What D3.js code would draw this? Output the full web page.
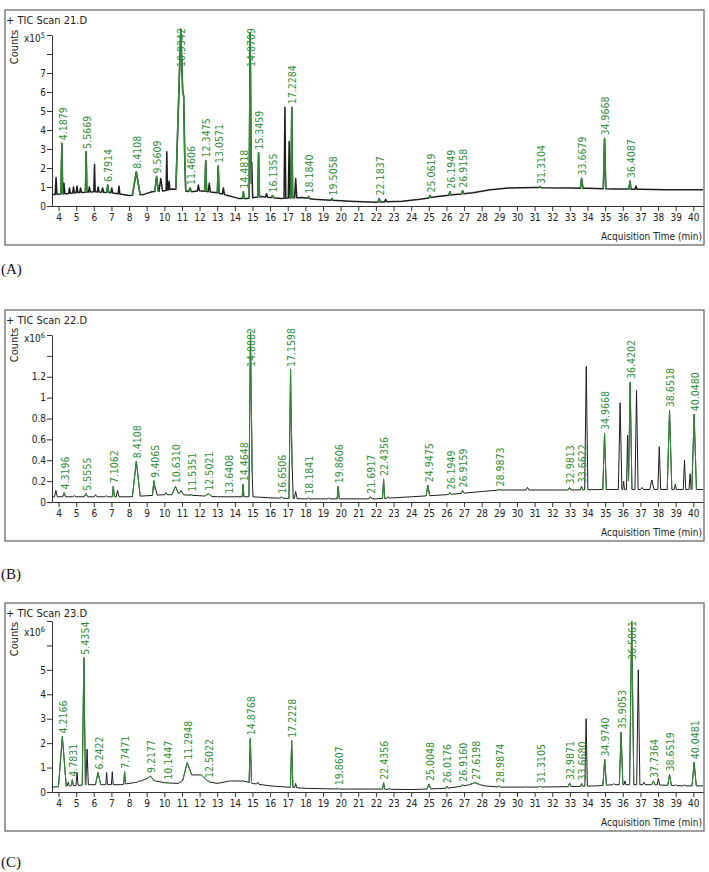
<!DOCTYPE html>
<html>
<head>
<meta charset="utf-8">
<script src="https://cdnjs.cloudflare.com/ajax/libs/d3/7.8.5/d3.min.js"></script>
<style>
  body { margin: 0; background: #fff; }
  svg text { font-family: "DejaVu Sans Condensed", "DejaVu Sans", sans-serif; }
</style>
</head>
<body>
<div id="chart"></div>
<script>
// GC-MS total ion chromatograms, three scans (A, B, C)
// peaks: retention time (min), apex height, half width at base (min), label

const xTicks = [4,5,6,7,8,9,10,11,12,13,14,15,16,17,18,19,20,21,22,23,24,25,26,27,28,29,30,31,32,33,34,35,36,37,38,39,40];

// ---- panel A (x10^5 counts) ----
const yTicksA = [0,1,2,3,4,5,6,7,8,9];
const yLabelsA = ["0","1","2","3","4","5","6","7","",""];
const baseTimeA  = [3.63,4.5,5.0,6.0,7.0,8.0,8.8,9.3,10.0,10.5,11.5,12.0,13.0,13.6,14.2,14.7,15.5,16.0,16.6,17.8,18.5,19.5,20.5,22.0,23.5,24.5,25.5,26.5,27.5,28.5,29.5,31.0,33.0,34.0,35.5,37.0,38.5,40.55];
const baseLevelA = [0.6,0.65,0.7,0.75,0.7,0.55,0.6,0.75,0.8,0.9,0.75,0.8,0.7,0.55,0.4,0.4,0.5,0.45,0.4,0.45,0.35,0.3,0.25,0.2,0.25,0.35,0.5,0.6,0.7,0.85,0.95,0.97,0.95,0.93,0.9,0.88,0.86,0.85];
const peakTimeA   = [3.86,4.1879,4.31,4.62,4.85,5.05,5.25,5.5669,5.75,6.04,6.25,6.5,6.7914,7.02,7.43,8.4108,9.5609,9.8,10.14,10.27,10.9342,11.1,11.4606,11.93,12.3475,12.55,13.0571,13.35,14.4818,14.8709,14.96,15.3459,15.8,16.1355,16.84,17.08,17.2284,17.45,18.184,19.5058,22.1837,22.55,25.0619,26.1949,26.9158,31.3104,33.6679,34.9668,36.4087,36.75];
const peakHeightA = [1.5,3.3,1.2,0.95,1.0,1.05,0.95,2.85,1.0,2.2,1.0,0.95,1.1,0.95,1.05,1.8,1.55,1.45,2.85,1.3,9.3,2.3,0.95,1.1,2.4,1.2,2.1,0.95,0.75,9.1,2.3,2.8,0.65,0.55,5.2,3.4,5.2,1.45,0.5,0.4,0.4,0.35,0.55,0.75,0.8,1.0,1.45,3.55,1.3,1.05];
const peakWidthA  = [0.05,0.05,0.05,0.05,0.05,0.05,0.05,0.04,0.05,0.04,0.05,0.06,0.06,0.05,0.05,0.22,0.1,0.1,0.04,0.05,0.28,0.06,0.08,0.06,0.05,0.06,0.05,0.06,0.05,0.06,0.05,0.05,0.06,0.06,0.05,0.05,0.05,0.06,0.06,0.06,0.06,0.06,0.06,0.06,0.06,0.06,0.07,0.07,0.06,0.06];
const peakLabelA  = ["","4.1879","","","","","","5.5669","","","","","6.7914","","","8.4108","9.5609","","","","10.9342","","11.4606","","12.3475","","13.0571","","14.4818","14.8709","","15.3459","","16.1355","","","17.2284","","18.1840","19.5058","22.1837","","25.0619","26.1949","26.9158","31.3104","33.6679","34.9668","36.4087",""];

// ---- panel B (x10^6 counts) ----
const yTicksB = [0,0.2,0.4,0.6,0.8,1.0,1.2,1.4,1.6];
const yLabelsB = ["0","0.2","0.4","0.6","0.8","1","1.2","",""];
const baseTimeB  = [3.63,5,7,8,9,10,11,12,13,14,15,16,18,20,22,24,26,28,29,33,35,40.55];
const baseLevelB = [0.05,0.05,0.05,0.05,0.06,0.07,0.07,0.06,0.05,0.05,0.05,0.04,0.03,0.03,0.03,0.05,0.07,0.1,0.115,0.115,0.12,0.12];
const peakTimeB   = [3.85,4.3196,4.9,5.5555,6.1,6.7,7.1062,7.35,8.4108,9.4065,9.5,10.1,10.631,10.95,11.5351,12.5021,13.6408,14.4648,14.8882,14.97,16.6506,17.1598,17.25,17.45,18.1841,19.3,19.8606,21.6917,22.4356,22.7,24.9475,26.1949,26.9159,28.9873,30.6,32.9813,33.6622,33.93,34.9668,35.85,36.05,36.27,36.4202,36.78,37.1,37.65,38.07,38.6518,38.98,39.5,39.82,40.048];
const peakHeightB = [0.11,0.09,0.06,0.08,0.07,0.06,0.15,0.11,0.39,0.2,0.13,0.09,0.15,0.11,0.07,0.08,0.05,0.17,1.63,0.33,0.05,1.27,0.35,0.1,0.04,0.04,0.15,0.05,0.22,0.05,0.16,0.09,0.11,0.12,0.14,0.14,0.15,1.3,0.66,0.95,0.2,0.64,1.15,1.07,0.14,0.21,0.53,0.88,0.17,0.4,0.27,0.84];
const peakWidthB  = [0.08,0.08,0.1,0.1,0.08,0.08,0.06,0.08,0.22,0.08,0.1,0.06,0.2,0.15,0.08,0.2,0.08,0.05,0.09,0.06,0.08,0.09,0.06,0.08,0.06,0.06,0.06,0.08,0.06,0.06,0.1,0.06,0.07,0.08,0.08,0.08,0.07,0.09,0.1,0.1,0.05,0.06,0.1,0.09,0.08,0.12,0.08,0.13,0.06,0.07,0.06,0.13];
const peakLabelB  = ["","4.3196","","5.5555","","","7.1062","","8.4108","9.4065","","","10.6310","","11.5351","12.5021","13.6408","14.4648","14.8882","","16.6506","17.1598","","","18.1841","","19.8606","21.6917","22.4356","","24.9475","26.1949","26.9159","28.9873","","32.9813","33.6622","","34.9668","","","","36.4202","","","","","38.6518","","","","40.0480"];

// ---- panel C (x10^6 counts) ----
const yTicksC = [0,1,2,3,4,5,6,7];
const yLabelsC = ["0","1","2","3","4","5","",""];
const baseTimeC  = [3.63,4.6,5.8,6.5,7.5,8.5,9.0,9.5,10.0,10.8,11.5,12.1,12.5,13.0,13.7,14.5,15.0,16.0,17.0,18.0,20.0,22.0,24.0,26.0,27.0,27.6,28.2,29.0,31.0,33.0,34.5,35.5,37.5,39.5,40.55];
const baseLevelC = [0.2,0.25,0.3,0.3,0.3,0.4,0.55,0.45,0.38,0.35,0.7,0.7,0.42,0.35,0.45,0.45,0.35,0.25,0.2,0.15,0.12,0.12,0.1,0.15,0.25,0.35,0.25,0.2,0.2,0.22,0.25,0.3,0.3,0.25,0.25];
const peakTimeC   = [4.2166,4.55,4.7831,5.05,5.4354,5.62,6.2422,6.73,7.05,7.7471,8.3,8.55,9.2177,10.1447,11.2948,12.5022,14.8768,15.3,17.2228,17.45,19.8607,22.4356,22.8,25.0048,26.0176,26.916,27.6198,28.9874,30.5,31.3105,32.9871,33.668,33.92,34.974,35.5,35.9053,36.12,36.5061,36.88,37.2,37.7364,38.02,38.6519,39.0,39.5,40.0481];
const peakHeightC = [2.27,0.4,0.5,0.8,5.5,1.75,0.8,0.8,0.83,0.83,0.4,0.45,0.65,0.38,1.2,0.45,2.2,0.4,2.1,0.35,0.15,0.38,0.15,0.33,0.24,0.3,0.38,0.25,0.22,0.24,0.37,0.35,3.0,1.33,0.35,2.45,0.45,7.0,5.0,0.4,0.45,0.55,0.72,0.3,0.3,1.22];
const peakWidthC  = [0.22,0.06,0.06,0.06,0.09,0.07,0.15,0.05,0.05,0.05,0.08,0.1,0.2,0.1,0.25,0.06,0.07,0.07,0.07,0.06,0.07,0.06,0.06,0.1,0.07,0.08,0.3,0.08,0.06,0.08,0.08,0.06,0.07,0.1,0.06,0.1,0.05,0.12,0.09,0.07,0.1,0.07,0.1,0.06,0.06,0.12];
const peakLabelC  = ["4.2166","","4.7831","","5.4354","","6.2422","","","7.7471","","","9.2177","10.1447","11.2948","12.5022","14.8768","","17.2228","","19.8607","22.4356","","25.0048","26.0176","26.9160","27.6198","28.9874","","31.3105","32.9871","33.6680","","34.9740","","35.9053","","36.5061","","","37.7364","","38.6519","","","40.0481"];

const panels = [
  { name: "+ TIC Scan 21.D", exp: "5", letter: "(A)", top: 10, bottom: 245, y0: 206, yMax: 9, yTop: 35, lw: 1.5,
    countsY: 47, unitY: 42,
    yTicks: yTicksA, yLabels: yLabelsA, bt: baseTimeA, bv: baseLevelA, pt: peakTimeA, ph: peakHeightA, pw: peakWidthA, pl: peakLabelA, letterY: 274 },
  { name: "+ TIC Scan 22.D", exp: "6", letter: "(B)", top: 310, bottom: 541, y0: 502, yMax: 1.6, yTop: 335, lw: 1,
    countsY: 345, unitY: 342,
    yTicks: yTicksB, yLabels: yLabelsB, bt: baseTimeB, bv: baseLevelB, pt: peakTimeB, ph: peakHeightB, pw: peakWidthB, pl: peakLabelB, letterY: 579 },
  { name: "+ TIC Scan 23.D", exp: "6", letter: "(C)", top: 603, bottom: 831, y0: 792, yMax: 7, yTop: 621, lw: 1,
    countsY: 639, unitY: 636,
    yTicks: yTicksC, yLabels: yLabelsC, bt: baseTimeC, bv: baseLevelC, pt: peakTimeC, ph: peakHeightC, pw: peakWidthC, pl: peakLabelC, letterY: 867 }
];

const W = 709, H = 872;
const green = "#2f8c35", dark = "#1e1e1e", axisCol = "#333";

const svg = d3.select("#chart").append("svg").attr("width", W).attr("height", H);

const x = d3.scaleLinear().domain([3.63, 40.55]).range([52, 703]);

// builds the trace vertices: baseline plus triangular peaks
function buildTrace(p) {
  const base = d3.scaleLinear().domain(p.bt).range(p.bv).clamp(true);
  let ts = p.bt.slice();
  p.pt.forEach((t, i) => ts.push(t - p.pw[i], t, t + p.pw[i]));
  ts = Array.from(new Set(ts)).filter(t => t >= p.bt[0] && t <= p.bt[p.bt.length - 1]).sort((a, b) => a - b);
  return ts.map(t => {
    let v = base(t);
    p.pt.forEach((c, i) => {
      const d = Math.abs(t - c);
      if (d < p.pw[i]) v += (p.ph[i] - base(c)) * (1 - d / p.pw[i]);
    });
    return [t, v];
  });
}

panels.forEach(p => {
  const g = svg.append("g");
  const y = d3.scaleLinear().domain([0, p.yMax]).range([p.y0, p.yTop]);

  // frame
  g.append("rect")
    .attr("x", 5).attr("y", p.top)
    .attr("width", 699).attr("height", p.bottom - p.top)
    .attr("fill", "none").attr("stroke", "#6a6a6a").attr("stroke-width", 1.3);

  g.append("text").attr("x", 6).attr("y", p.top + 14)
    .attr("font-size", 11).attr("fill", "#222").text(p.name);

  // axes
  const yAxis = d3.axisLeft(y).tickValues(p.yTicks)
    .tickFormat((d, i) => p.yLabels[i]).tickSize(5).tickSizeOuter(0);
  const yg = g.append("g").attr("transform", "translate(52,0)").call(yAxis);

  const xAxis = d3.axisBottom(x).tickValues(xTicks).tickFormat(d3.format("d")).tickSize(5).tickSizeOuter(0);
  const xg = g.append("g").attr("transform", "translate(0," + p.y0 + ")").call(xAxis);

  [yg, xg].forEach(a => {
    a.selectAll("path,line").attr("stroke", axisCol);
    a.selectAll("text").attr("font-size", 10).attr("fill", "#222")
      .style("font-family", '"DejaVu Sans Condensed", sans-serif');
  });
  yg.selectAll("text").attr("x", -6);
  xg.selectAll("text").attr("y", 8);

  g.append("text").attr("transform", "translate(18," + p.countsY + ")rotate(-90)")
    .attr("text-anchor", "middle").attr("font-size", 11).attr("fill", "#222").text("Counts");

  const xl = g.append("text").attr("x", 24).attr("y", p.unitY).attr("font-size", 10).attr("fill", "#222");
  xl.append("tspan").text("x10");
  xl.append("tspan").attr("dy", -4).attr("font-size", 7.5).text(p.exp);

  g.append("text").attr("x", 702).attr("y", p.y0 + 34).attr("text-anchor", "end")
    .attr("font-size", 10).attr("fill", "#222").text("Acquisition Time (min)");

  // trace
  const trace = buildTrace(p);
  const line = d3.line().x(d => x(d[0])).y(d => y(d[1]));
  g.append("path").attr("d", line(trace)).attr("fill", "none")
    .attr("stroke", dark).attr("stroke-width", p.lw).attr("stroke-linejoin", "round");

  // integrated (labelled) peaks in green
  const labelled = p.pt.map((t, i) => ({ t, h: p.ph[i], w: p.pw[i], label: p.pl[i] })).filter(d => d.label !== "");
  labelled.forEach(d => {
    const seg = trace.filter(v => v[0] >= d.t - d.w - 1e-9 && v[0] <= d.t + d.w + 1e-9);
    g.append("path").attr("d", line(seg)).attr("fill", "none")
      .attr("stroke", green).attr("stroke-width", p.lw).attr("stroke-linejoin", "round");
  });

  // peak labels
  const labels = g.selectAll("text.peak").data(labelled).join("text")
    .attr("class", "peak")
    .attr("font-size", 10.5).attr("fill", green)
    .attr("dy", "0.35em")
    .text(d => d.label);
  labels.attr("transform", function (d) {
    const apex = d3.max(trace.filter(v => Math.abs(v[0] - d.t) < 1e-9), v => v[1]);
    const len = this.getComputedTextLength();
    let bottom = y(apex) - 3;
    if (bottom - len < p.top + 18) bottom = p.top + 18 + len;
    return "translate(" + (x(d.t) + 1) + "," + bottom + ")rotate(-90)";
  });

  svg.append("text").attr("x", 1).attr("y", p.letterY)
    .attr("font-size", 15).attr("fill", "#111")
    .style("font-family", '"Liberation Serif", serif').text(p.letter);
});
</script>
</body>
</html>
